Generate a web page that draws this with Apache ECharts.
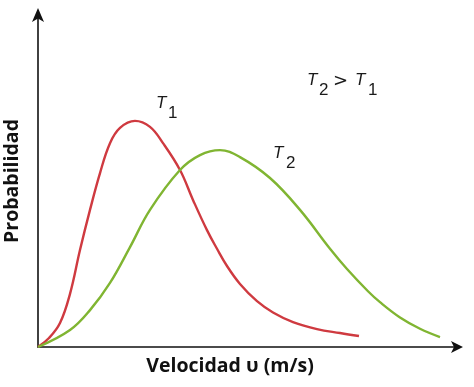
<!DOCTYPE html>
<html>
<head>
<meta charset="utf-8">
<script src="https://cdn.jsdelivr.net/npm/echarts@6/dist/echarts.min.js"></script>
<style>
html,body{margin:0;padding:0;background:#fff;}
#c{width:474px;height:387px;}
</style>
</head>
<body>
<div id="c"></div>
<script>
// Velocity (arbitrary units, 0-1000) and probability (0-100)
const redT1 = [
  [0,0],[26.3,2.7],[52.5,7.2],[76.4,16.0],[100.2,29.2],[124.1,41.3],[148.0,52.4],
  [171.8,61.4],[195.7,66.0],[231.5,68.1],[267.3,66.3],[298.3,61.4],[338.9,53.3],
  [369.9,44.3],[403.3,35.2],[427.2,29.6],[451.1,24.4],[482.1,19.0],[522.7,13.8],
  [560.9,10.4],[608.6,7.5],[665.9,5.4],[720.8,4.2],[766.1,3.3]
];
const greenT2 = [
  [0,0],[76.4,5.1],[124.1,11.1],[171.8,19.3],[219.6,30.1],[267.3,41.3],[338.9,53.3],
  [386.6,57.8],[434.4,59.3],[482.1,57.2],[553.7,50.9],[625.3,41.3],[696.9,29.6],
  [737.5,23.5],[787.6,16.8],[816.2,13.5],[864.0,8.9],[911.7,5.5],[959.4,3.0]
];
const xTitle = 'Velocidad υ (m/s)';
const yTitle = 'Probabilidad';

const chart = echarts.init(document.getElementById('c'));
const titleFont = {fontFamily:'Open Sans', fontWeight:'bold', fontSize:19.5, color:'#111'};
const lblFont = 'Liberation Sans';
function txt(x, y, s, italic, size, fam){
  return {type:'text', x:x, y:y, style:{text:s, fontFamily:fam||lblFont, fontSize:size||17,
    fontStyle: italic ? 'italic' : 'normal', fill:'#1a1a1a', textVerticalAlign:'top'}};
}
chart.setOption({
  animation:false,
  grid:{left:38, right:17, top:15, bottom:40, outerBoundsMode:'none', containLabel:false},
  xAxis:{type:'value', min:0, max:1000,
    axisLine:{show:true, symbol:['none','arrow'], symbolSize:[9,12], symbolOffset:[0,6],
      lineStyle:{color:'#111', width:1.6}},
    axisTick:{show:false}, axisLabel:{show:false}, splitLine:{show:false},
    name:xTitle, nameLocation:'middle', nameGap:9,
    nameTextStyle:Object.assign({padding:[0,35,0,0], verticalAlign:'top'}, titleFont)},
  yAxis:{type:'value', min:0, max:100,
    axisLine:{show:true, symbol:['none','arrow'], symbolSize:[9,14], symbolOffset:[0,7],
      lineStyle:{color:'#111', width:1.6}},
    axisTick:{show:false}, axisLabel:{show:false}, splitLine:{show:false},
    name:yTitle, nameLocation:'middle', nameGap:16, nameRotate:90,
    nameTextStyle:titleFont},
  series:[
    {type:'line', data:redT1, smooth:0.4, showSymbol:false, lineStyle:{color:'#cf3a40', width:2.4}},
    {type:'line', data:greenT2, smooth:0.4, showSymbol:false, lineStyle:{color:'#80b532', width:2.4}}
  ],
  graphic:[
    txt(156,95,'T',true), txt(168,105,'1',false),
    txt(273,145,'T',true), txt(286,155,'2',false),
    txt(307,72,'T',true), txt(319,82,'2',false), txt(333,72,'>',false,18,'DejaVu Sans'),
    txt(355,72,'T',true), txt(368,82,'1',false)
  ]
});
</script>
</body>
</html>
